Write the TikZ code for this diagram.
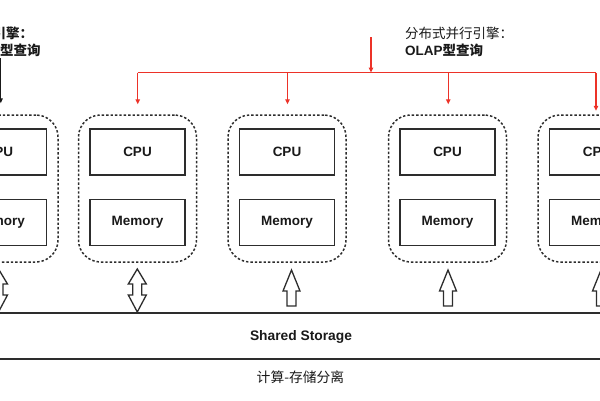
\documentclass[tikz,border=0pt]{standalone}
\usepackage{fontspec}
\setmainfont{Liberation Sans}
\newfontfamily\cjk{Noto Sans CJK SC}
\usetikzlibrary{arrows.meta}
\definecolor{redline}{RGB}{236,50,40}
\definecolor{ink}{RGB}{25,25,25}
\definecolor{edge}{RGB}{45,45,45}
\begin{document}
\begin{tikzpicture}[x=1pt,y=-1pt,
  server/.style={draw=edge, line width=1.5pt, dash pattern=on 2.4pt off 2pt,
    rounded corners=22pt, minimum width=118pt, minimum height=147pt, inner sep=0pt},
  unit/.style={draw=edge, line width=1.3pt, minimum width=95pt, minimum height=46pt,
    inner sep=0pt, text=ink, font=\fontsize{13.5}{16}\selectfont\bfseries},
  redarrow/.style={draw=redline, line width=1.2pt, -{Triangle[width=4.5pt,length=5pt]}},
  redseg/.style={draw=redline, line width=1.2pt},
  blackarrow/.style={draw=ink, line width=1pt, -{Triangle[width=4pt,length=5pt]}},
  blockarrow/.style={draw=edge, line width=1.3pt, fill=white, line join=miter},
  storeline/.style={draw=edge, line width=1.6pt},
  lbl/.style={inner sep=0pt, text=ink, font=\fontsize{13.5}{17}\selectfont},
  uparrow/.pic={\draw[blockarrow] (0,0) -- (8.5,21) -- (4.5,21) -- (4.5,36)
     -- (-4.5,36) -- (-4.5,21) -- (-8.5,21) -- cycle;},
  dblarrow/.pic={\draw[blockarrow] (0,0) -- (9,15) -- (4.5,15) -- (4.5,26) -- (9,26)
     -- (0,43) -- (-9,26) -- (-4.5,26) -- (-4.5,15) -- (-9,15) -- cycle;},
]
\useasboundingbox (0,0) rectangle (600,400);

% servers
\foreach \i/\x in {0/-1,1/137.5,2/287,3/447.5,4/597}{
  \node[server] (n\i) at (\x,188.5) {};
  \node[unit] (c\i) at (\x,152) {CPU};
  \node[unit] (m\i) at (\x,222.5) {Memory};
}

% shared storage
\draw[storeline] (-5,313) -- (605,313);
\draw[storeline] (-5,359) -- (605,359);
\node[lbl, font=\fontsize{13.8}{16}\selectfont\bfseries] (st) at (301,337) {Shared Storage};
\node[lbl, font=\fontsize{13.8}{16}\selectfont\cjk] (cap) at (300.5,377) {计算-存储分离};

% block arrows
\pic at (-1.5,269) {dblarrow};
\pic at (137.3,269) {dblarrow};
\pic at (291.5,270) {uparrow};
\pic at (448,270) {uparrow};
\pic at (601,270) {uparrow};

% labels
\node[lbl, anchor=west] (tl1) at (-7.5,33) {\cjk\bfseries 引擎：};
\node[lbl, anchor=west] (tl2) at (0,50) {\cjk\bfseries 型查询};
\node[lbl, anchor=west] (ol1) at (405,33) {\cjk 分布式并行引擎：};
\node[lbl, anchor=west] (ol2) at (405,50) {\bfseries OLAP{\cjk\bfseries 型查询}};

% black arrow at left
\coordinate (k0) at (0.8,58);
\draw[blackarrow, shorten >=11pt] (k0) -- (n0.north -| k0);

% red fan-out
\coordinate (rs) at (371,37);
\coordinate (rh) at (371,72.5);
\coordinate (d1) at (137.7,72.5);
\coordinate (d2) at (287.5,72.5);
\coordinate (d3) at (448.3,72.5);
\coordinate (d4) at (596,72.5);
\draw[redarrow] (rs) -- (rh);
\draw[redseg] (d1) -- (d4);
\draw[redarrow, shorten >=10pt] (d1) -- (n1.north -| d1);
\draw[redarrow, shorten >=10pt] (d2) -- (n2.north -| d2);
\draw[redarrow, shorten >=10pt] (d3) -- (n3.north -| d3);
\draw[redarrow, shorten >=3.5pt] (d4) -- (n4.north -| d4);
\end{tikzpicture}
\end{document}
